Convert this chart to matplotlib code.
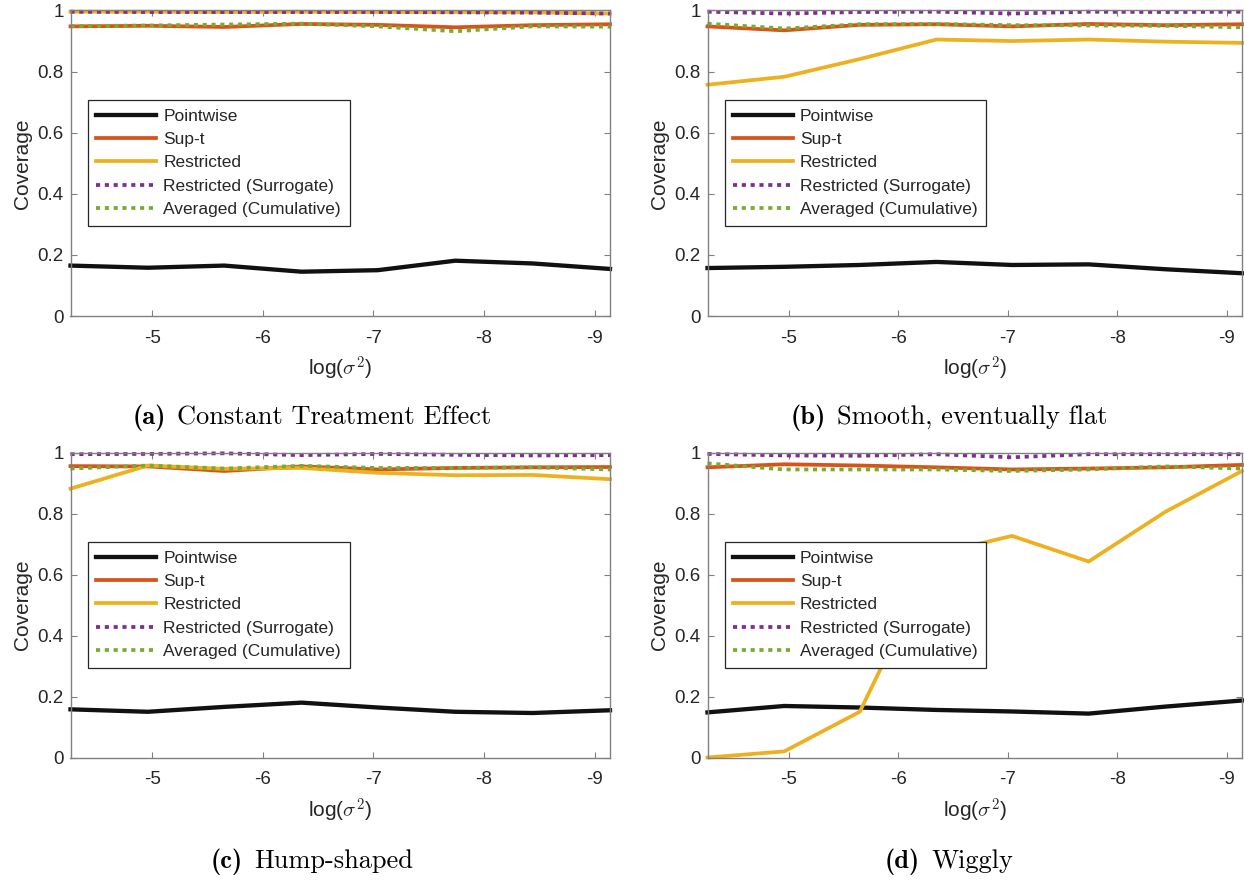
import os
import matplotlib
matplotlib.use("Agg")
import matplotlib.pyplot as plt
from matplotlib.font_manager import FontProperties
from matplotlib.offsetbox import TextArea, HPacker, AnchoredOffsetbox

# ---- data -------------------------------------------------------------
log_sigma2 = [-4.26, -4.96, -5.65, -6.35, -7.04, -7.74, -8.44, -9.14]
x_ticks = [-5, -6, -7, -8, -9]
y_ticks = [0, 0.2, 0.4, 0.6, 0.8, 1]
y_ticklabels = ["0", "0.2", "0.4", "0.6", "0.8", "1"]

series_names = ["Pointwise", "Sup-t", "Restricted",
                "Restricted (Surrogate)", "Averaged (Cumulative)"]

panel_tags = ["(a)", "(b)", "(c)", "(d)"]
panel_titles = ["Constant Treatment Effect", "Smooth, eventually flat",
                "Hump-shaped", "Wiggly"]

# (a) constant treatment effect
a_pointwise = [0.165, 0.158, 0.165, 0.145, 0.150, 0.181, 0.172, 0.154]
a_supt = [0.948, 0.950, 0.946, 0.956, 0.953, 0.945, 0.952, 0.955]
a_restricted = [0.996, 0.996, 0.995, 0.996, 0.995, 0.995, 0.994, 0.990]
a_surrogate = [0.996, 0.995, 0.995, 0.995, 0.995, 0.994, 0.993, 0.990]
a_averaged = [0.949, 0.951, 0.954, 0.957, 0.948, 0.932, 0.948, 0.947]

# (b) smooth, eventually flat
b_pointwise = [0.157, 0.161, 0.167, 0.177, 0.167, 0.169, 0.153, 0.140]
b_supt = [0.948, 0.935, 0.953, 0.955, 0.948, 0.956, 0.952, 0.955]
b_restricted = [0.757, 0.783, 0.841, 0.905, 0.900, 0.905, 0.898, 0.894]
b_surrogate = [0.996, 0.990, 0.995, 0.996, 0.990, 0.996, 0.995, 0.996]
b_averaged = [0.957, 0.941, 0.955, 0.956, 0.952, 0.951, 0.950, 0.945]

# (c) hump-shaped
c_pointwise = [0.158, 0.150, 0.166, 0.180, 0.164, 0.150, 0.146, 0.155]
c_supt = [0.956, 0.955, 0.940, 0.955, 0.945, 0.950, 0.952, 0.953]
c_restricted = [0.882, 0.958, 0.947, 0.950, 0.934, 0.926, 0.927, 0.913]
c_surrogate = [0.995, 0.996, 0.998, 0.992, 0.996, 0.993, 0.991, 0.992]
c_averaged = [0.948, 0.958, 0.948, 0.957, 0.950, 0.950, 0.952, 0.945]

# (d) wiggly
d_pointwise = [0.148, 0.169, 0.164, 0.156, 0.151, 0.144, 0.167, 0.187]
d_supt = [0.952, 0.962, 0.958, 0.952, 0.945, 0.948, 0.952, 0.960]
d_restricted = [0.000, 0.020, 0.150, 0.668, 0.727, 0.643, 0.806, 0.940]
d_surrogate = [0.996, 0.991, 0.990, 0.995, 0.985, 0.995, 0.995, 0.995]
d_averaged = [0.965, 0.945, 0.945, 0.945, 0.940, 0.945, 0.955, 0.948]

panels = [
    [a_pointwise, a_supt, a_restricted, a_surrogate, a_averaged],
    [b_pointwise, b_supt, b_restricted, b_surrogate, b_averaged],
    [c_pointwise, c_supt, c_restricted, c_surrogate, c_averaged],
    [d_pointwise, d_supt, d_restricted, d_surrogate, d_averaged],
]

# ---- styling ----------------------------------------------------------
colors = ["#111111", "#D95319", "#EDB120", "#7E2F8E", "#77AC30"]
dotted = (0, (1.1, 1.25))
styles = ["-", "-", "-", dotted, dotted]
widths = [3.1, 2.7, 2.7, 2.7, 2.7]

plt.rcParams["font.family"] = ["Liberation Sans", "DejaVu Sans"]
plt.rcParams["mathtext.fontset"] = "cm"
plt.rcParams["axes.unicode_minus"] = False

spine_col = "#808080"
text_col = "#262626"

ttf_dir = os.path.join(matplotlib.get_data_path(), "fonts", "ttf")
cap_reg = FontProperties(fname=os.path.join(ttf_dir, "cmr10.ttf"), size=19)
cap_bold = FontProperties(fname=os.path.join(ttf_dir, "cmb10.ttf"), size=19)

W, H = 1244, 880
fig = plt.figure(figsize=(W / 100, H / 100), dpi=100)

# axes boxes in pixels: (left, top, right, bottom)
boxes = [
    (70.5, 10.5, 610.0, 316.0),
    (707.5, 10.5, 1242.0, 316.0),
    (70.5, 452.7, 610.0, 757.5),
    (707.5, 452.7, 1242.0, 757.5),
]
caption_xy = [(312, 418), (949, 418), (312, 862), (949, 862)]

for k, (box, data) in enumerate(zip(boxes, panels)):
    l, t, r, b = box
    ax = fig.add_axes([l / W, 1 - b / H, (r - l) / W, (b - t) / H])
    for vals, name, c, ls, lw in zip(data, series_names, colors, styles, widths):
        ax.plot(log_sigma2, vals, color=c, linestyle=ls, linewidth=lw,
                label=name, solid_joinstyle="miter", clip_on=False)
    ax.set_xlim(log_sigma2[0], log_sigma2[-1])
    ax.set_ylim(0, 1)
    ax.set_xticks(x_ticks)
    ax.set_xticklabels([str(v) for v in x_ticks])
    ax.set_yticks(y_ticks)
    ax.set_yticklabels(y_ticklabels)
    for s in ax.spines.values():
        s.set_color(spine_col)
        s.set_linewidth(1.0)
    ax.tick_params(direction="in", length=4, width=0.8, color=spine_col,
                   top=True, right=True, labelsize=13.5, labelcolor=text_col)
    ax.tick_params(axis="x", pad=10)
    ax.tick_params(axis="y", pad=5)
    ax.set_xlabel(r"log($\sigma^{\mathsf{2}}$)", fontsize=15, color=text_col,
                  labelpad=6)
    ax.set_ylabel("Coverage", fontsize=15, color=text_col, labelpad=4)

    leg = ax.legend(loc="upper left", bbox_to_anchor=(0.032, 0.707),
                    borderaxespad=0, fontsize=12.5, handlelength=3.45,
                    handletextpad=0.4, labelspacing=0.47, borderpad=0.5,
                    fancybox=False, framealpha=1, edgecolor="#262626")
    leg.get_frame().set_linewidth(0.9)
    for txt in leg.get_texts():
        txt.set_color(text_col)

    # caption: bold tag followed by the panel title
    tag = TextArea(panel_tags[k], textprops=dict(fontproperties=cap_bold, color="black"))
    title = TextArea(panel_titles[k], textprops=dict(fontproperties=cap_reg, color="black"))
    pack = HPacker(children=[tag, title], align="baseline", pad=0, sep=8)
    cx, cy = caption_xy[k]
    anchored = AnchoredOffsetbox(loc="center", child=pack, frameon=False,
                                 bbox_to_anchor=(cx / W, 1 - cy / H),
                                 bbox_transform=fig.transFigure, borderpad=0, pad=0)
    fig.add_artist(anchored)

fig.savefig("out.png", dpi=100)
